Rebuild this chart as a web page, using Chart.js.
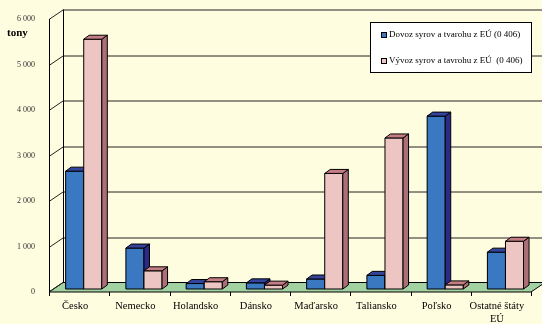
<!DOCTYPE html>
<html lang="sk">
<head>
    <meta charset="UTF-8">
    <title>Dovoz a vývoz syrov</title>
    <script src="https://cdn.jsdelivr.net/npm/chart.js"></script>
    <style>
        body {
            margin: 0;
            background: #fffde0;
        }
        .chart-box {
            width: 542px;
            height: 324px;
        }
    </style>
</head>
<body>
    <div class="chart-box">
        <canvas id="cheeseChart"></canvas>
    </div>
    <script>
        // data (tony)
        const categories = ['Česko', 'Nemecko', 'Holandsko', 'Dánsko', 'Maďarsko', 'Taliansko', 'Poľsko', ['Ostatné štáty', 'EÚ']];
        const dovoz = [2590, 900, 120, 135, 220, 300, 3800, 810];
        const vyvoz = [5490, 400, 160, 85, 2540, 3320, 90, 1050];
        const seriesNames = ['Dovoz syrov a tvarohu z EÚ (0 406)', 'Vývoz syrov a tavrohu z EÚ  (0 406)'];
        const yMax = 6000;
        const yStep = 1000;

        // 3D look: front/side/top colours per series
        const faces = [
            { front: '#3a79c2', side: '#2b2a86', top: '#34449c' },
            { front: '#edc5c2', side: '#ad6f77', top: '#c47d83' }
        ];
        const BAR_DX = 4.6, BAR_DY = -3;     // bars sit half way into the floor
        const DEPTH_X = 5.5, DEPTH_Y = -4;   // bar depth
        const WALL_DX = 14, WALL_DY = -9.5;  // back wall offset

        const fmt = v => v === 0 ? '0' : (v / 1000) + ' 000';

        const box3d = {
            id: 'box3d',
            beforeDraw(chart) {
                const { ctx, chartArea: a, scales: { y } } = chart;
                ctx.save();
                // floor
                ctx.fillStyle = '#a2d2a2';
                ctx.strokeStyle = '#000';
                ctx.lineWidth = 1;
                ctx.beginPath();
                ctx.moveTo(a.left, a.bottom);
                ctx.lineTo(a.right, a.bottom);
                ctx.lineTo(a.right + WALL_DX, a.bottom + WALL_DY);
                ctx.lineTo(a.left + WALL_DX, a.bottom + WALL_DY);
                ctx.closePath();
                ctx.fill();
                ctx.stroke();

                // back wall grid + left wall diagonals
                ctx.strokeStyle = '#222';
                for (let v = yStep; v <= yMax; v += yStep) {
                    const py = Math.round(y.getPixelForValue(v)) + 0.5;
                    ctx.beginPath();
                    ctx.moveTo(a.left, py);
                    ctx.lineTo(a.left + WALL_DX, py + WALL_DY);
                    ctx.lineTo(chart.width + 5, py + WALL_DY);
                    ctx.stroke();
                }
                ctx.beginPath();
                ctx.moveTo(a.left, a.bottom);
                ctx.lineTo(a.left + WALL_DX, a.bottom + WALL_DY);
                ctx.stroke();

                // wall edges
                ctx.strokeStyle = '#000';
                ctx.beginPath();
                ctx.moveTo(a.left + 0.5, a.top);
                ctx.lineTo(a.left + 0.5, a.bottom);
                ctx.moveTo(a.left + WALL_DX + 0.5, a.top + WALL_DY);
                ctx.lineTo(a.left + WALL_DX + 0.5, a.bottom + WALL_DY);
                ctx.stroke();

                // x tick marks
                const w = (a.right - a.left) / categories.length;
                ctx.beginPath();
                for (let i = 0; i <= categories.length; i++) {
                    const px = Math.round(a.left + i * w) + 0.5;
                    ctx.moveTo(px, a.bottom);
                    ctx.lineTo(px, a.bottom + 4);
                }
                ctx.stroke();

                // axis title
                ctx.fillStyle = '#000';
                ctx.font = 'bold 11px "Liberation Serif", serif';
                ctx.textBaseline = 'middle';
                ctx.fillText('tony', 7, 33);
                ctx.restore();
            },
            beforeDatasetsDraw(chart) {
                chart.ctx.save();
                chart.ctx.translate(BAR_DX, BAR_DY);
            },
            afterDatasetsDraw(chart) {
                const { ctx } = chart;
                ctx.lineWidth = 1;
                ctx.strokeStyle = '#000';
                ctx.lineJoin = 'round';
                const metas = [chart.getDatasetMeta(0), chart.getDatasetMeta(1)];
                for (let i = 0; i < categories.length; i++) {
                    metas.forEach((meta, d) => {
                        const bar = meta.data[i];
                        const x0 = bar.x - bar.width / 2, x1 = bar.x + bar.width / 2;
                        const top = bar.y, base = bar.base;
                        const f = faces[d];
                        // front
                        ctx.fillStyle = f.front;
                        ctx.fillRect(x0, top, x1 - x0, base - top);
                        ctx.strokeRect(x0, top, x1 - x0, base - top);
                        // side
                        ctx.fillStyle = f.side;
                        ctx.beginPath();
                        ctx.moveTo(x1, top);
                        ctx.lineTo(x1 + DEPTH_X, top + DEPTH_Y);
                        ctx.lineTo(x1 + DEPTH_X, base + DEPTH_Y);
                        ctx.lineTo(x1, base);
                        ctx.closePath();
                        ctx.fill();
                        ctx.stroke();
                        // top
                        ctx.fillStyle = f.top;
                        ctx.beginPath();
                        ctx.moveTo(x0, top);
                        ctx.lineTo(x1, top);
                        ctx.lineTo(x1 + DEPTH_X, top + DEPTH_Y);
                        ctx.lineTo(x0 + DEPTH_X, top + DEPTH_Y);
                        ctx.closePath();
                        ctx.fill();
                        ctx.stroke();
                    });
                }
                ctx.restore();
            },
            afterDraw(chart) {
                // legend box
                const { ctx } = chart;
                ctx.save();
                ctx.fillStyle = '#fff';
                ctx.strokeStyle = '#000';
                ctx.lineWidth = 1;
                ctx.fillRect(370.5, 22.5, 161, 50);
                ctx.strokeRect(370.5, 22.5, 161, 50);
                ctx.font = '9px "Liberation Serif", serif';
                ctx.textBaseline = 'middle';
                const rows = [35, 61];
                seriesNames.forEach((name, d) => {
                    ctx.fillStyle = faces[d].front;
                    ctx.fillRect(381.5, rows[d] - 2.5, 5, 5);
                    ctx.strokeRect(381.5, rows[d] - 2.5, 5, 5);
                    ctx.fillStyle = '#000';
                    ctx.fillText(name, 389, rows[d]);
                });
                ctx.restore();
            }
        };

        new Chart(document.getElementById('cheeseChart'), {
            type: 'bar',
            data: {
                labels: categories,
                datasets: [
                    { label: seriesNames[0], data: dovoz, backgroundColor: faces[0].front },
                    { label: seriesNames[1], data: vyvoz, backgroundColor: faces[1].front }
                ]
            },
            options: {
                responsive: true,
                maintainAspectRatio: false,
                animation: false,
                layout: { padding: { left: 0, right: 11, top: 19, bottom: 0 } },
                datasets: { bar: { categoryPercentage: 0.6, barPercentage: 1 } },
                plugins: {
                    legend: { display: false },
                    tooltip: { enabled: false }
                },
                scales: {
                    x: {
                        grid: { display: false },
                        border: { display: false },
                        ticks: {
                            color: '#000',
                            font: { family: '"Liberation Serif", serif', size: 10.5, lineHeight: 1.2 },
                            padding: 0,
                            labelOffset: -4,
                            maxRotation: 0,
                            autoSkip: false
                        },
                        afterFit(scale) { scale.height = 32; }
                    },
                    y: {
                        min: 0,
                        max: yMax,
                        grid: { display: false },
                        border: { display: false },
                        ticks: {
                            stepSize: yStep,
                            color: '#333',
                            font: { family: '"Liberation Serif", serif', size: 8 },
                            padding: 6,
                            callback: v => fmt(v)
                        },
                        afterFit(scale) { scale.width = 49; }
                    }
                }
            },
            plugins: [box3d]
        });
    </script>
</body>
</html>
